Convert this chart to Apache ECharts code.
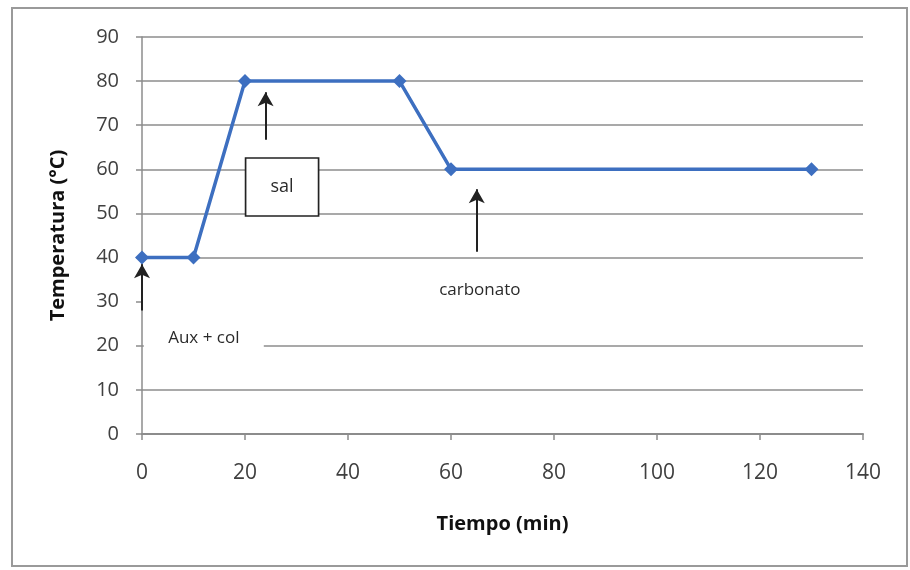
<!DOCTYPE html>
<html>
<head>
<meta charset="utf-8">
<script src="https://cdn.jsdelivr.net/npm/echarts@6/dist/echarts.min.js"></script>
<style>
html,body{margin:0;padding:0;background:#fff;}
#chart{width:910px;height:570px;}
</style>
</head>
<body>
<div id="chart"></div>
<script>
// Data
const timeMin = [0, 10, 20, 50, 60, 130];
const tempC = [40, 40, 80, 80, 60, 60];
const xTicks = [0, 20, 40, 60, 80, 100, 120, 140];
const yTicks = [0, 10, 20, 30, 40, 50, 60, 70, 80, 90];
// Annotation arrows: [x, yFrom, yTo] in data units
const arrows = [
  [24, 66.7, 77.5],
  [65, 41.3, 55.5],
  [0, 28, 38.5]
];
// Annotation labels: [text, x, y]
const notes = [
  ['sal', 27.2, 56],
  ['carbonato', 65.6, 32.7],
  ['Aux + col', 12, 21.8]
];

const FONT = '"Open Sans", "Liberation Sans", sans-serif';
const chart = echarts.init(document.getElementById('chart'));

const gridColors = yTicks.map(v => v === 30 ? 'rgba(0,0,0,0)' : '#8c8c8c');

const markPointData = notes.map(([t, x, y]) => {
  const base = { coord: [x, y], value: t };
  if (t === 'sal') {
    return Object.assign(base, {
      symbol: 'rect', symbolSize: [73, 58],
      itemStyle: { color: '#fff', borderColor: '#222', borderWidth: 1.5 },
      label: { show: true, formatter: t, color: '#2a2a2a', fontSize: 18, fontFamily: FONT }
    });
  }
  if (t === 'Aux + col') {
    return Object.assign(base, {
      symbol: 'rect', symbolSize: [120, 24],
      itemStyle: { color: '#fff', borderWidth: 0 },
      label: { show: true, formatter: t, color: '#2a2a2a', fontSize: 17, fontFamily: FONT }
    });
  }
  return Object.assign(base, {
    symbol: 'rect', symbolSize: [1, 1],
    itemStyle: { color: 'rgba(0,0,0,0)' },
    label: { show: true, formatter: t, color: '#2a2a2a', fontSize: 17, fontFamily: FONT }
  });
});

const markLineData = arrows.map(([x, y0, y1]) => [
  { coord: [x, y0] },
  { coord: [x, y1] }
]);

chart.setOption({
  animation: false,
  backgroundColor: '#fff',
  graphic: [{
    type: 'rect',
    shape: { x: 12, y: 8, width: 895, height: 558 },
    style: { fill: 'none', stroke: '#9a9a9a', lineWidth: 2 },
    z: -1
  }],
  grid: { left: 142, right: 47, top: 37, bottom: 136 },
  xAxis: {
    type: 'value', min: 0, max: 140, interval: 20,
    name: 'Tiempo (min)', nameLocation: 'middle', nameGap: 80,
    nameTextStyle: { fontFamily: FONT, fontSize: 20, fontWeight: 'bold', color: '#111' },
    axisLine: { show: true, lineStyle: { color: '#8c8c8c', width: 2 } },
    axisTick: { show: true, length: 6, lineStyle: { color: '#8c8c8c', width: 1.5 } },
    axisLabel: { fontFamily: FONT, fontSize: 21, color: '#404040', margin: 29,
      formatter: v => xTicks.includes(v) ? String(v) : '' },
    splitLine: { show: false }
  },
  yAxis: {
    type: 'value', min: 0, max: 90, interval: 10,
    name: 'Temperatura (°C)', nameLocation: 'middle', nameGap: 74,
    nameTextStyle: { fontFamily: FONT, fontSize: 20, fontWeight: 'bold', color: '#111' },
    axisLine: { show: true, lineStyle: { color: '#8c8c8c', width: 1.5 } },
    axisTick: { show: true, length: 6, lineStyle: { color: '#8c8c8c', width: 1.5 } },
    axisLabel: { fontFamily: FONT, fontSize: 20, color: '#404040', margin: 23,
      formatter: v => yTicks.includes(v) ? String(v) : '' },
    splitLine: { show: true, lineStyle: { color: gridColors, width: 1.5 } }
  },
  series: [{
    type: 'line',
    data: timeMin.map((t, i) => [t, tempC[i]]),
    symbol: 'diamond', symbolSize: 14,
    lineStyle: { color: '#3d6fc0', width: 3.5 },
    itemStyle: { color: '#3d6fc0' },
    z: 3,
    markPoint: { data: markPointData, z: 2, silent: true },
    markLine: {
      silent: true, symbol: ['none', 'arrow'], symbolSize: [12, 14],
      lineStyle: { color: '#222', width: 2, type: 'solid' },
      label: { show: false },
      data: markLineData
    }
  }]
});
</script>
</body>
</html>
